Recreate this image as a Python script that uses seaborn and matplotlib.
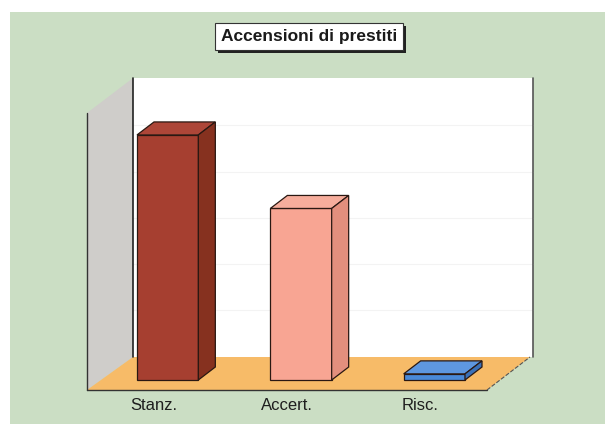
import matplotlib
matplotlib.use("Agg")
import matplotlib.pyplot as plt
from matplotlib.patches import Polygon, Rectangle
import seaborn as sns

# data (no axis scale shown, relative heights)
categories = ["Stanz.", "Accert.", "Risc."]
values = [100, 70, 2.5]
title = "Accensioni di prestiti"

front_colors = ["#a63f30", "#f8a593", "#4a89d8"]
top_colors = ["#ad4638", "#f6ad9c", "#5e97e0"]
side_colors = ["#86311f", "#e38f7d", "#3a70b8"]

sns.set_style("white")
plt.rcParams['font.family'] = ['Liberation Sans', 'DejaVu Sans']

W, H = 605, 424
fig = plt.figure(figsize=(W / 100, H / 100), dpi=100)
fig.patch.set_facecolor("white")

# background layer in pixel coordinates
bg = fig.add_axes([0, 0, 1, 1])
bg.set_xlim(0, W)
bg.set_ylim(H, 0)
bg.axis('off')
bg.add_patch(Rectangle((10, 12), W - 10, H - 12, facecolor="#cbdec4", edgecolor="none"))

# 3d box: left wall, back wall, floor
bg.add_patch(Polygon([(87, 390), (87, 113), (133, 78), (133, 357)],
                     facecolor="#cfcdca", edgecolor="none"))
bg.add_patch(Rectangle((133, 78), 400, 279, facecolor="white", edgecolor="none"))
for gy in [125, 172, 218, 264, 310]:
    bg.plot([133, 533], [gy, gy], color="#f3f3f3", lw=0.8)
bg.add_patch(Polygon([(87, 390), (487, 390), (530, 357), (133, 357)],
                     facecolor="#f7bb68", edgecolor="none"))
bg.plot([87, 87], [113, 390], color="#333333", lw=1)
bg.plot([133, 133], [78, 357], color="#222222", lw=1.2)
bg.plot([533, 533], [78, 357], color="#555555", lw=1.2)
bg.plot([87, 487], [390, 390], color="#333333", lw=1)
bg.plot([487, 530], [390, 357], color="#555555", lw=0.8, ls="--")

# title box
bg.add_patch(Rectangle((218, 26), 188, 27, facecolor="#222222", edgecolor="none"))
bg.add_patch(Rectangle((215, 23), 188, 27, facecolor="white", edgecolor="#333333", lw=0.8))
bg.text(309, 37, title, ha="center", va="center", fontsize=12.5, fontweight="bold", color="#1a1a1a")

# bars
ax = fig.add_axes([87 / W, (H - 390) / H, 400 / W, 310 / H])
ax.patch.set_alpha(0)
sns.barplot(x=categories, y=values, hue=categories, palette=front_colors, legend=False,
            width=0.46, saturation=1, edgecolor="#2a1812", linewidth=0.9, ax=ax)
ax.set_xlim(-0.5, 2.5)
ax.set_ylim(0, 126.5)

px_x = 400 / 3.0
px_y = 310 / 126.5
ox, oy = 14 / px_x, 10 / px_y      # bars sit in the middle of the floor depth
ddx, ddy = 17 / px_x, 13 / px_y    # bar depth

for i, p in enumerate(ax.patches):
    p.set_x(p.get_x() + ox)
    p.set_y(oy)
    x0, x1 = p.get_x(), p.get_x() + p.get_width()
    y0, y1 = oy, oy + p.get_height()
    ax.add_patch(Polygon([(x0, y1), (x0 + ddx, y1 + ddy), (x1 + ddx, y1 + ddy), (x1, y1)],
                         facecolor=top_colors[i], edgecolor="#2a1812", lw=0.9, clip_on=False))
    ax.add_patch(Polygon([(x1, y0), (x1 + ddx, y0 + ddy), (x1 + ddx, y1 + ddy), (x1, y1)],
                         facecolor=side_colors[i], edgecolor="#2a1812", lw=0.9, clip_on=False))

sns.despine(ax=ax, left=True, bottom=True)
ax.set_yticks([])
ax.set_xlabel("")
ax.set_ylabel("")
ax.tick_params(axis="x", length=0, pad=6, labelsize=12, labelcolor="#1e1e1e")

fig.savefig("out.png", dpi=100)
